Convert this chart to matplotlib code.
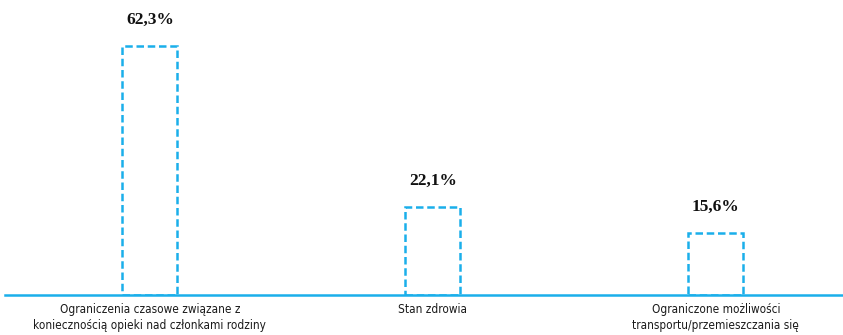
import matplotlib
matplotlib.use("Agg")
import matplotlib.pyplot as plt

categories = ["Ograniczenia czasowe związane z\nkoniecznością opieki nad członkami rodziny",
              "Stan zdrowia",
              "Ograniczone możliwości\ntransportu/przemieszczania się"]
values = [62.3, 22.1, 15.6]
value_labels = ["62,3%", "22,1%", "15,6%"]

blue = "#1AAFEA"

fig = plt.figure(figsize=(8.43, 3.35), dpi=100)
ax = fig.add_axes([5 / 843, 40 / 335, 838 / 843, 280 / 335])

x = list(range(len(categories)))
ax.bar(x, values, width=0.194, facecolor="none", edgecolor=blue,
       linewidth=1.8, linestyle=(0, (3, 1.5)))

for xi, v, lab in zip(x, values, value_labels):
    ax.annotate(lab, (xi, v), xytext=(0, 13), textcoords="offset points",
                ha="center", va="bottom", fontsize=12.5, fontweight="bold",
                family="Liberation Serif", color="#111111")

ax.set_xlim(-0.512, 2.449)
ax.set_ylim(0, 70)
ax.set_yticks([])
ax.set_xticks(x)
ax.set_xticklabels(categories, fontsize=8.5, color="#1a1a1a", linespacing=1.25,
                   fontstretch="condensed")
ax.tick_params(axis="x", length=0, pad=6)
for s in ["top", "right", "left"]:
    ax.spines[s].set_visible(False)
ax.spines["bottom"].set_color(blue)
ax.spines["bottom"].set_linewidth(1.8)
ax.patch.set_alpha(0)

fig.savefig("out.png", dpi=100)
